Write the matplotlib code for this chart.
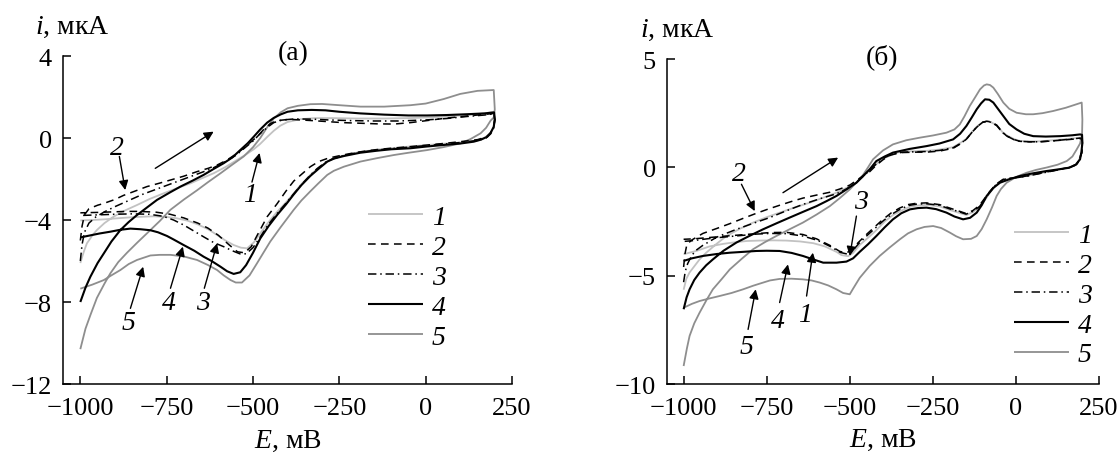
import numpy as np
import matplotlib
matplotlib.use("Agg")
import matplotlib.pyplot as plt

plt.rcParams["font.family"] = ["Liberation Serif", "DejaVu Serif"]
plt.rcParams["mathtext.fontset"] = "custom"
plt.rcParams["mathtext.it"] = "Liberation Serif:italic"
plt.rcParams["mathtext.rm"] = "Liberation Serif"

# Cyclic voltammograms, (E mV, i uA): anodic sweep -1000 -> +200, then back to -1000
# ---- panel (а) ----
a1 = [(-1000, -6.1), (-990, -5.55), (-981, -5.14), (-965, -4.75), (-952, -4.49), (-930, -4.15),
      (-904, -3.84), (-870, -3.53), (-836, -3.27), (-800, -2.98), (-759, -2.7), (-720, -2.45),
      (-681, -2.21), (-650, -1.98), (-614, -1.72), (-580, -1.42), (-546, -1.07), (-520, -0.8),
      (-498, -0.55), (-480, -0.3), (-459, 0.05), (-440, 0.35), (-421, 0.6), (-400, 0.78),
      (-363, 0.92), (-320, 0.97), (-270, 0.97), (-200, 0.95), (-120, 0.95), (-50, 0.97),
      (0, 1.0), (60, 1.05), (120, 1.12), (170, 1.2), (198, 1.28),
      (200, 0.9), (197, 0.5), (185, 0.2), (170, 0.0), (150, -0.12), (100, -0.22), (52, -0.28),
      (0, -0.35), (-50, -0.42), (-100, -0.5), (-141, -0.57), (-190, -0.68), (-237, -0.85),
      (-265, -1.0), (-285, -1.15), (-310, -1.45), (-334, -1.8), (-360, -2.25), (-382, -2.7),
      (-405, -3.15), (-430, -3.6), (-455, -4.1), (-479, -4.65), (-498, -5.1), (-517, -5.38),
      (-535, -5.35), (-556, -5.22), (-580, -5.0), (-604, -4.73), (-630, -4.45), (-662, -4.2),
      (-690, -4.03), (-720, -3.92), (-750, -3.85), (-788, -3.82), (-820, -3.84), (-855, -3.87),
      (-895, -3.92), (-932, -3.97), (-965, -4.0), (-1000, -4.02)]
a2 = [(-1000, -5.0), (-995, -4.3), (-988, -3.75), (-975, -3.45), (-950, -3.28), (-932, -3.19),
      (-900, -3.0), (-875, -2.8), (-840, -2.58), (-807, -2.37), (-770, -2.2), (-739, -2.05),
      (-700, -1.86), (-662, -1.64), (-630, -1.48), (-604, -1.32), (-575, -1.07), (-546, -0.75),
      (-520, -0.4), (-500, -0.1), (-488, 0.06), (-470, 0.4), (-450, 0.7), (-430, 0.85),
      (-400, 0.9), (-382, 0.9), (-330, 0.85), (-285, 0.8), (-240, 0.75), (-189, 0.72),
      (-140, 0.69), (-92, 0.68), (-44, 0.75), (4, 0.85), (50, 0.95), (101, 1.04), (150, 1.12),
      (188, 1.18), (198, 1.2),
      (200, 0.9), (197, 0.55), (188, 0.25), (175, 0.05), (150, -0.08), (100, -0.18), (50, -0.27),
      (0, -0.35), (-50, -0.43), (-100, -0.5), (-150, -0.58), (-200, -0.7), (-240, -0.83),
      (-265, -0.92), (-285, -1.0), (-310, -1.15), (-334, -1.4), (-358, -1.75), (-382, -2.1),
      (-405, -2.6), (-430, -3.2), (-459, -3.84), (-488, -4.75), (-505, -5.3), (-525, -5.6),
      (-545, -5.55), (-570, -5.2), (-600, -4.75), (-630, -4.4), (-660, -4.15), (-700, -3.9),
      (-740, -3.72), (-780, -3.62), (-830, -3.58), (-865, -3.58), (-900, -3.6), (-950, -3.63),
      (-1000, -3.65)]
a3 = [(-1000, -6.0), (-995, -5.2), (-988, -4.6), (-975, -4.15), (-955, -3.85), (-930, -3.6),
      (-900, -3.35), (-860, -3.05), (-820, -2.75), (-780, -2.5), (-740, -2.25), (-700, -2.0),
      (-660, -1.75), (-620, -1.5), (-585, -1.2), (-550, -0.85), (-525, -0.5), (-500, -0.15),
      (-480, 0.2), (-460, 0.5), (-440, 0.75), (-415, 0.88), (-380, 0.93), (-330, 0.92),
      (-280, 0.88), (-220, 0.85), (-150, 0.83), (-80, 0.83), (0, 0.88), (60, 0.95), (120, 1.05),
      (170, 1.12), (198, 1.18),
      (200, 0.88), (197, 0.5), (188, 0.2), (175, 0.0), (150, -0.12), (100, -0.22), (50, -0.3),
      (0, -0.37), (-50, -0.45), (-100, -0.52), (-150, -0.6), (-200, -0.72), (-240, -0.87),
      (-270, -1.02), (-290, -1.18), (-315, -1.5), (-338, -1.88), (-362, -2.32), (-385, -2.78),
      (-408, -3.25), (-432, -3.72), (-457, -4.25), (-480, -4.85), (-500, -5.35), (-520, -5.65),
      (-538, -5.65), (-560, -5.5), (-585, -5.3), (-614, -5.1), (-640, -4.85), (-670, -4.55),
      (-700, -4.25), (-730, -4.0), (-760, -3.82), (-800, -3.72), (-850, -3.7), (-900, -3.72),
      (-950, -3.75), (-1000, -3.78)]
a4 = [(-1000, -8.0), (-985, -7.3), (-971, -6.77), (-950, -6.1), (-932, -5.63), (-910, -5.05),
      (-884, -4.49), (-860, -4.1), (-836, -3.76), (-800, -3.3), (-778, -3.02), (-740, -2.65),
      (-710, -2.37), (-675, -2.08), (-643, -1.8), (-615, -1.52), (-585, -1.23), (-560, -0.95),
      (-537, -0.59), (-515, -0.25), (-498, 0.06), (-480, 0.4), (-459, 0.75), (-440, 0.98),
      (-420, 1.15), (-400, 1.28), (-370, 1.35), (-330, 1.37), (-290, 1.35), (-250, 1.28),
      (-189, 1.2), (-120, 1.14), (-50, 1.1), (4, 1.1), (60, 1.12), (120, 1.16), (170, 1.2),
      (198, 1.25),
      (200, 0.9), (197, 0.55), (188, 0.25), (178, 0.06), (160, -0.08), (139, -0.18), (100, -0.27),
      (52, -0.34), (0, -0.42), (-44, -0.5), (-100, -0.55), (-141, -0.62), (-190, -0.72),
      (-237, -0.88), (-265, -1.0), (-285, -1.15), (-310, -1.5), (-334, -1.85), (-360, -2.3),
      (-382, -2.75), (-405, -3.25), (-430, -3.75), (-455, -4.3), (-479, -4.9), (-500, -5.6),
      (-520, -6.2), (-537, -6.55), (-556, -6.63), (-575, -6.5), (-594, -6.28), (-620, -6.0),
      (-643, -5.79), (-670, -5.5), (-701, -5.22), (-730, -4.95), (-749, -4.78), (-775, -4.6),
      (-797, -4.5), (-826, -4.45), (-855, -4.42), (-885, -4.48), (-913, -4.57), (-945, -4.66),
      (-971, -4.75), (-1000, -4.85)]
a5 = [(-1000, -10.3), (-985, -9.3), (-970, -8.6), (-952, -7.8), (-930, -7.1), (-913, -6.6),
      (-890, -6.05), (-865, -5.6), (-835, -5.1), (-807, -4.65), (-770, -4.05), (-739, -3.5),
      (-700, -3.0), (-662, -2.55), (-630, -2.15), (-594, -1.72), (-560, -1.3), (-527, -0.9),
      (-500, -0.45), (-479, 0.0), (-460, 0.5), (-440, 0.95), (-420, 1.25), (-400, 1.45),
      (-370, 1.57), (-334, 1.65), (-300, 1.66), (-250, 1.6), (-189, 1.53), (-120, 1.53),
      (-44, 1.6), (0, 1.68), (52, 1.9), (100, 2.15), (150, 2.3), (197, 2.34),
      (200, 1.4), (197, 1.0), (188, 0.85), (175, 0.5), (159, 0.23), (130, -0.05), (101, -0.26),
      (50, -0.45), (4, -0.59), (-50, -0.72), (-92, -0.83), (-140, -0.98), (-189, -1.15),
      (-237, -1.4), (-266, -1.6), (-285, -1.8), (-310, -2.2), (-334, -2.6), (-360, -3.05),
      (-382, -3.5), (-420, -4.35), (-450, -5.05), (-470, -5.6), (-488, -6.1), (-510, -6.7),
      (-532, -7.05), (-550, -7.05), (-565, -6.93), (-585, -6.7), (-604, -6.44), (-630, -6.2),
      (-662, -5.95), (-700, -5.78), (-739, -5.7), (-770, -5.7), (-797, -5.73), (-836, -5.95),
      (-860, -6.15), (-884, -6.44), (-910, -6.7), (-932, -6.93), (-965, -7.15), (-1000, -7.35)]

# ---- panel (б) ----
b1 = [(-1000, -5.65), (-992, -5.15), (-982, -4.85), (-972, -4.65), (-952, -4.25), (-932, -3.94),
      (-900, -3.52), (-871, -3.17), (-830, -2.83), (-791, -2.55), (-750, -2.3), (-711, -2.09),
      (-665, -1.85), (-620, -1.63), (-580, -1.4), (-540, -1.17), (-510, -0.95), (-480, -0.71),
      (-460, -0.42), (-440, -0.12), (-420, 0.15), (-400, 0.4), (-370, 0.6), (-349, 0.72),
      (-300, 0.75), (-269, 0.76), (-230, 0.82), (-189, 0.93), (-165, 1.15), (-149, 1.32),
      (-133, 1.62), (-118, 1.88), (-100, 2.08), (-88, 2.12), (-75, 2.08), (-58, 1.95),
      (-40, 1.62), (-28, 1.48), (-5, 1.3), (12, 1.22), (40, 1.2), (72, 1.2), (110, 1.25),
      (150, 1.3), (193, 1.37), (199, 1.35),
      (200, 1.1), (198, 0.68), (190, 0.35), (183, 0.14), (160, 0.0), (133, -0.09), (80, -0.25),
      (32, -0.4), (0, -0.48), (-38, -0.58), (-60, -0.82), (-78, -1.17), (-93, -1.5),
      (-108, -1.82), (-128, -2.05), (-149, -2.2), (-175, -2.08), (-199, -1.97), (-230, -1.8),
      (-269, -1.73), (-300, -1.77), (-319, -1.82), (-345, -2.0), (-370, -2.2), (-395, -2.5),
      (-420, -2.9), (-445, -3.25), (-470, -3.58), (-490, -3.95), (-505, -4.1), (-525, -4.05),
      (-540, -3.9), (-575, -3.65), (-610, -3.5), (-650, -3.42), (-691, -3.38), (-730, -3.37),
      (-771, -3.38), (-810, -3.4), (-841, -3.45), (-880, -3.53), (-922, -3.65), (-960, -3.85),
      (-1000, -4.01)]
b2 = [(-1000, -4.6), (-996, -4.0), (-990, -3.55), (-975, -3.35), (-942, -3.05), (-900, -2.82),
      (-861, -2.6), (-820, -2.35), (-786, -2.15), (-750, -1.95), (-711, -1.75), (-670, -1.55),
      (-641, -1.42), (-600, -1.28), (-560, -1.15), (-530, -1.0), (-500, -0.82), (-470, -0.5),
      (-440, -0.2), (-420, 0.1), (-400, 0.35), (-380, 0.55), (-349, 0.68), (-300, 0.7),
      (-269, 0.7), (-230, 0.75), (-189, 0.88), (-165, 1.1), (-149, 1.3), (-133, 1.6),
      (-118, 1.85), (-100, 2.08), (-88, 2.13), (-75, 2.1), (-58, 1.95), (-40, 1.62),
      (-28, 1.45), (-5, 1.28), (12, 1.2), (40, 1.18), (72, 1.18), (110, 1.22), (150, 1.27),
      (193, 1.33), (199, 1.3),
      (200, 1.1), (198, 0.68), (190, 0.35), (183, 0.14), (160, 0.0), (133, -0.09), (80, -0.25),
      (32, -0.4), (0, -0.47), (-38, -0.55), (-60, -0.78), (-80, -1.14), (-95, -1.45),
      (-110, -1.76), (-130, -2.0), (-152, -2.12), (-175, -2.0), (-199, -1.88), (-230, -1.72),
      (-269, -1.64), (-300, -1.66), (-325, -1.72), (-350, -1.88), (-375, -2.1), (-400, -2.4),
      (-425, -2.75), (-450, -3.1), (-475, -3.48), (-495, -3.82), (-510, -3.95), (-530, -3.88),
      (-560, -3.6), (-600, -3.3), (-641, -3.1), (-691, -3.0), (-740, -3.01), (-780, -3.06),
      (-830, -3.12), (-880, -3.18), (-930, -3.25), (-970, -3.3), (-1000, -3.32)]
b3 = [(-1000, -5.3), (-995, -4.8), (-988, -4.45), (-975, -4.05), (-960, -3.8), (-942, -3.6),
      (-900, -3.22), (-841, -2.86), (-790, -2.58), (-741, -2.32), (-690, -2.0), (-641, -1.71),
      (-590, -1.45), (-540, -1.22), (-510, -1.0), (-480, -0.7), (-455, -0.35), (-435, -0.05),
      (-415, 0.22), (-395, 0.45), (-370, 0.62), (-340, 0.7), (-300, 0.72), (-269, 0.73),
      (-230, 0.78), (-189, 0.9), (-165, 1.12), (-149, 1.3), (-133, 1.6), (-118, 1.86),
      (-100, 2.08), (-88, 2.12), (-75, 2.08), (-58, 1.93), (-40, 1.6), (-28, 1.45), (-5, 1.27),
      (12, 1.2), (40, 1.18), (72, 1.18), (110, 1.22), (150, 1.28), (193, 1.35), (199, 1.32),
      (200, 1.1), (198, 0.66), (190, 0.33), (183, 0.12), (160, -0.01), (133, -0.1), (80, -0.26),
      (32, -0.41), (0, -0.48), (-38, -0.56), (-60, -0.8), (-79, -1.15), (-94, -1.48),
      (-109, -1.8), (-129, -2.03), (-150, -2.16), (-175, -2.03), (-199, -1.92), (-230, -1.75),
      (-269, -1.68), (-300, -1.7), (-322, -1.76), (-348, -1.93), (-372, -2.15), (-398, -2.45),
      (-423, -2.8), (-448, -3.15), (-473, -3.52), (-493, -3.88), (-508, -4.0), (-528, -3.93),
      (-555, -3.68), (-595, -3.38), (-641, -3.17), (-691, -3.06), (-740, -3.05), (-780, -3.08),
      (-830, -3.15), (-880, -3.22), (-930, -3.3), (-970, -3.38), (-1000, -3.42)]
b4 = [(-1000, -6.55), (-991, -6.0), (-982, -5.63), (-968, -5.2), (-952, -4.86), (-932, -4.52),
      (-912, -4.25), (-880, -3.85), (-841, -3.47), (-800, -3.15), (-761, -2.86), (-720, -2.58),
      (-681, -2.32), (-640, -2.05), (-600, -1.79), (-570, -1.56), (-540, -1.32), (-510, -1.02),
      (-480, -0.71), (-460, -0.4), (-440, -0.09), (-420, 0.29), (-395, 0.5), (-370, 0.68),
      (-320, 0.85), (-269, 0.98), (-230, 1.1), (-189, 1.29), (-168, 1.55), (-149, 1.91),
      (-133, 2.3), (-118, 2.68), (-105, 2.95), (-93, 3.14), (-80, 3.12), (-68, 2.99),
      (-55, 2.72), (-38, 2.37), (-20, 2.0), (2, 1.75), (25, 1.55), (52, 1.44), (90, 1.42),
      (133, 1.44), (170, 1.48), (193, 1.52), (199, 1.5),
      (200, 1.14), (197, 0.7), (193, 0.37), (180, 0.12), (160, -0.02), (125, -0.1), (92, -0.17),
      (50, -0.28), (12, -0.4), (-20, -0.55), (-48, -0.71), (-68, -0.95), (-88, -1.32),
      (-103, -1.75), (-118, -2.09), (-138, -2.33), (-159, -2.4), (-185, -2.27), (-209, -2.09),
      (-240, -1.93), (-269, -1.86), (-295, -1.88), (-319, -1.94), (-345, -2.12), (-370, -2.4),
      (-395, -2.77), (-420, -3.17), (-445, -3.55), (-470, -3.9), (-490, -4.2), (-510, -4.35),
      (-540, -4.4), (-580, -4.4), (-610, -4.25), (-641, -4.09), (-675, -3.95), (-711, -3.86),
      (-750, -3.85), (-781, -3.86), (-820, -3.9), (-861, -3.94), (-900, -4.0), (-942, -4.09),
      (-975, -4.2), (-1000, -4.32)]
b5 = [(-1000, -9.17), (-990, -8.35), (-982, -7.78), (-968, -7.2), (-952, -6.71), (-932, -6.15),
      (-912, -5.63), (-885, -5.15), (-861, -4.71), (-825, -4.22), (-791, -3.78), (-755, -3.45),
      (-721, -3.17), (-680, -2.85), (-641, -2.55), (-600, -2.18), (-560, -1.79), (-530, -1.42),
      (-500, -1.02), (-480, -0.7), (-460, -0.35), (-445, 0.0), (-430, 0.37), (-400, 0.78),
      (-370, 1.06), (-330, 1.25), (-289, 1.37), (-250, 1.47), (-209, 1.6), (-185, 1.75),
      (-169, 1.98), (-155, 2.35), (-139, 2.83), (-122, 3.25), (-108, 3.6), (-96, 3.78),
      (-88, 3.83), (-78, 3.8), (-68, 3.68), (-55, 3.4), (-38, 2.99), (-20, 2.7), (2, 2.52),
      (30, 2.45), (52, 2.45), (80, 2.5), (112, 2.6), (150, 2.75), (180, 2.9), (198, 2.99),
      (200, 2.2), (199, 1.5), (193, 1.1), (183, 0.83), (170, 0.5), (153, 0.29), (125, 0.12),
      (92, -0.01), (60, -0.12), (32, -0.25), (0, -0.45), (-28, -0.71), (-45, -1.0),
      (-58, -1.32), (-72, -1.85), (-88, -2.4), (-103, -2.85), (-118, -3.17), (-135, -3.3),
      (-159, -3.32), (-180, -3.18), (-199, -3.01), (-225, -2.8), (-249, -2.71), (-275, -2.75),
      (-299, -2.86), (-325, -3.05), (-349, -3.32), (-380, -3.7), (-410, -4.09), (-440, -4.55),
      (-470, -5.1), (-490, -5.6), (-500, -5.86), (-520, -5.8), (-540, -5.63), (-565, -5.45),
      (-590, -5.32), (-615, -5.22), (-641, -5.17), (-675, -5.14), (-711, -5.15), (-740, -5.22),
      (-761, -5.32), (-790, -5.46), (-821, -5.63), (-856, -5.8), (-892, -5.94), (-922, -6.05),
      (-952, -6.17), (-975, -6.3), (-1000, -6.48)]

curve_labels = ["1", "2", "3", "4", "5"]
x_ticks = [-1000, -750, -500, -250, 0, 250]
a_yticks = [-12, -8, -4, 0, 4]
b_yticks = [-10, -5, 0, 5]

# label text position, arrow tail, arrow tip (data coords)
a_notes = [("2", (-893, -0.45), (-887, -0.9), (-870, -2.54)),
           ("1", (-510, -2.78), (-503, -2.15), (-481, -0.73)),
           ("5", (-861, -8.98), (-855, -8.31), (-818, -6.28)),
           ("4", (-745, -8.0), (-739, -7.33), (-703, -5.3)),
           ("3", (-645, -8.0), (-641, -7.33), (-604, -5.14))]
b_notes = [("2", (-834, -0.28), (-826, -0.78), (-786, -2.02)),
           ("3", (-465, -1.56), (-480, -2.25), (-500, -4.09)),
           ("1", (-636, -6.78), (-630, -5.94), (-611, -3.94)),
           ("4", (-716, -7.09), (-711, -6.24), (-686, -4.48)),
           ("5", (-811, -8.25), (-806, -7.48), (-783, -5.63))]
a_sweep = ((-783, -1.48), (-614, 0.31))
b_sweep = ((-701, -1.17), (-535, 0.45))

styles = [dict(color="#c2c2c2", lw=1.3, ls="-", zorder=2),
          dict(color="black", lw=1.1, ls=(0, (5, 3.5)), zorder=3),
          dict(color="black", lw=1.1, ls=(0, (5.5, 2.5, 1, 2.5)), zorder=3),
          dict(color="black", lw=1.5, ls="-", zorder=4),
          dict(color="#8e8e8e", lw=1.3, ls="-", zorder=2)]

FS_TICK = 19
FS = 20


def draw_panel(ax, curves, notes, sweep, ylim, yticks, tag, tag_x, legend_anchor):
    for pts, st, lab in zip(curves, styles, curve_labels):
        E, i = np.array(pts).T
        ax.plot(E, i, label=lab, solid_capstyle="butt", **st)

    for lab, txt, tail, tip in notes:
        ax.annotate("", xy=tip, xytext=tail,
                    arrowprops=dict(arrowstyle="-|>", color="black", lw=1.0,
                                    mutation_scale=14, shrinkA=0, shrinkB=0))
        ax.text(txt[0], txt[1], lab, fontsize=FS, style="italic",
                ha="center", va="center")
    ax.annotate("", xy=sweep[1], xytext=sweep[0],
                arrowprops=dict(arrowstyle="-|>", color="black", lw=1.0,
                                mutation_scale=14, shrinkA=0, shrinkB=0))

    ax.set_xlim(-1050, 250)
    ax.set_ylim(*ylim)
    ax.set_xticks(x_ticks)
    ax.set_yticks(yticks)
    for s in ("top", "right"):
        ax.spines[s].set_visible(False)
    for s in ("left", "bottom"):
        ax.spines[s].set_linewidth(1.1)
    ax.tick_params(direction="in", length=6, width=1.1, labelsize=FS_TICK)
    ax.tick_params(axis="x", pad=9)
    ax.tick_params(axis="y", pad=8)

    ax.text(-0.062, 1.09, r"$i$, мкА", transform=ax.transAxes, fontsize=FS,
            ha="left", va="center")
    ax.text(0.5, -0.171, r"$E$, мВ", transform=ax.transAxes, fontsize=FS,
            ha="center", va="center")
    ax.text(tag_x, 1.01, tag, transform=ax.transAxes, fontsize=FS,
            ha="center", va="center")

    ax.legend(loc="upper left", bbox_to_anchor=legend_anchor, frameon=False,
              prop=dict(style="italic", size=FS),
              handlelength=1.98, handletextpad=0.32, labelspacing=0.16,
              borderpad=0, borderaxespad=0)


fig = plt.figure(figsize=(11.18, 4.56), dpi=100)
ax_a = fig.add_axes([0.0564, 0.1557, 0.4016, 0.7193])
ax_b = fig.add_axes([0.5966, 0.1557, 0.3864, 0.7127])

draw_panel(ax_a, [a1, a2, a3, a4, a5], a_notes, a_sweep, (-12, 4), a_yticks,
           "(а)", 0.512, (0.679, 0.547))
draw_panel(ax_b, [b1, b2, b3, b4, b5], b_notes, b_sweep, (-10, 5), b_yticks,
           "(б)", 0.498, (0.803, 0.497))

fig.savefig("out.png", dpi=100)
